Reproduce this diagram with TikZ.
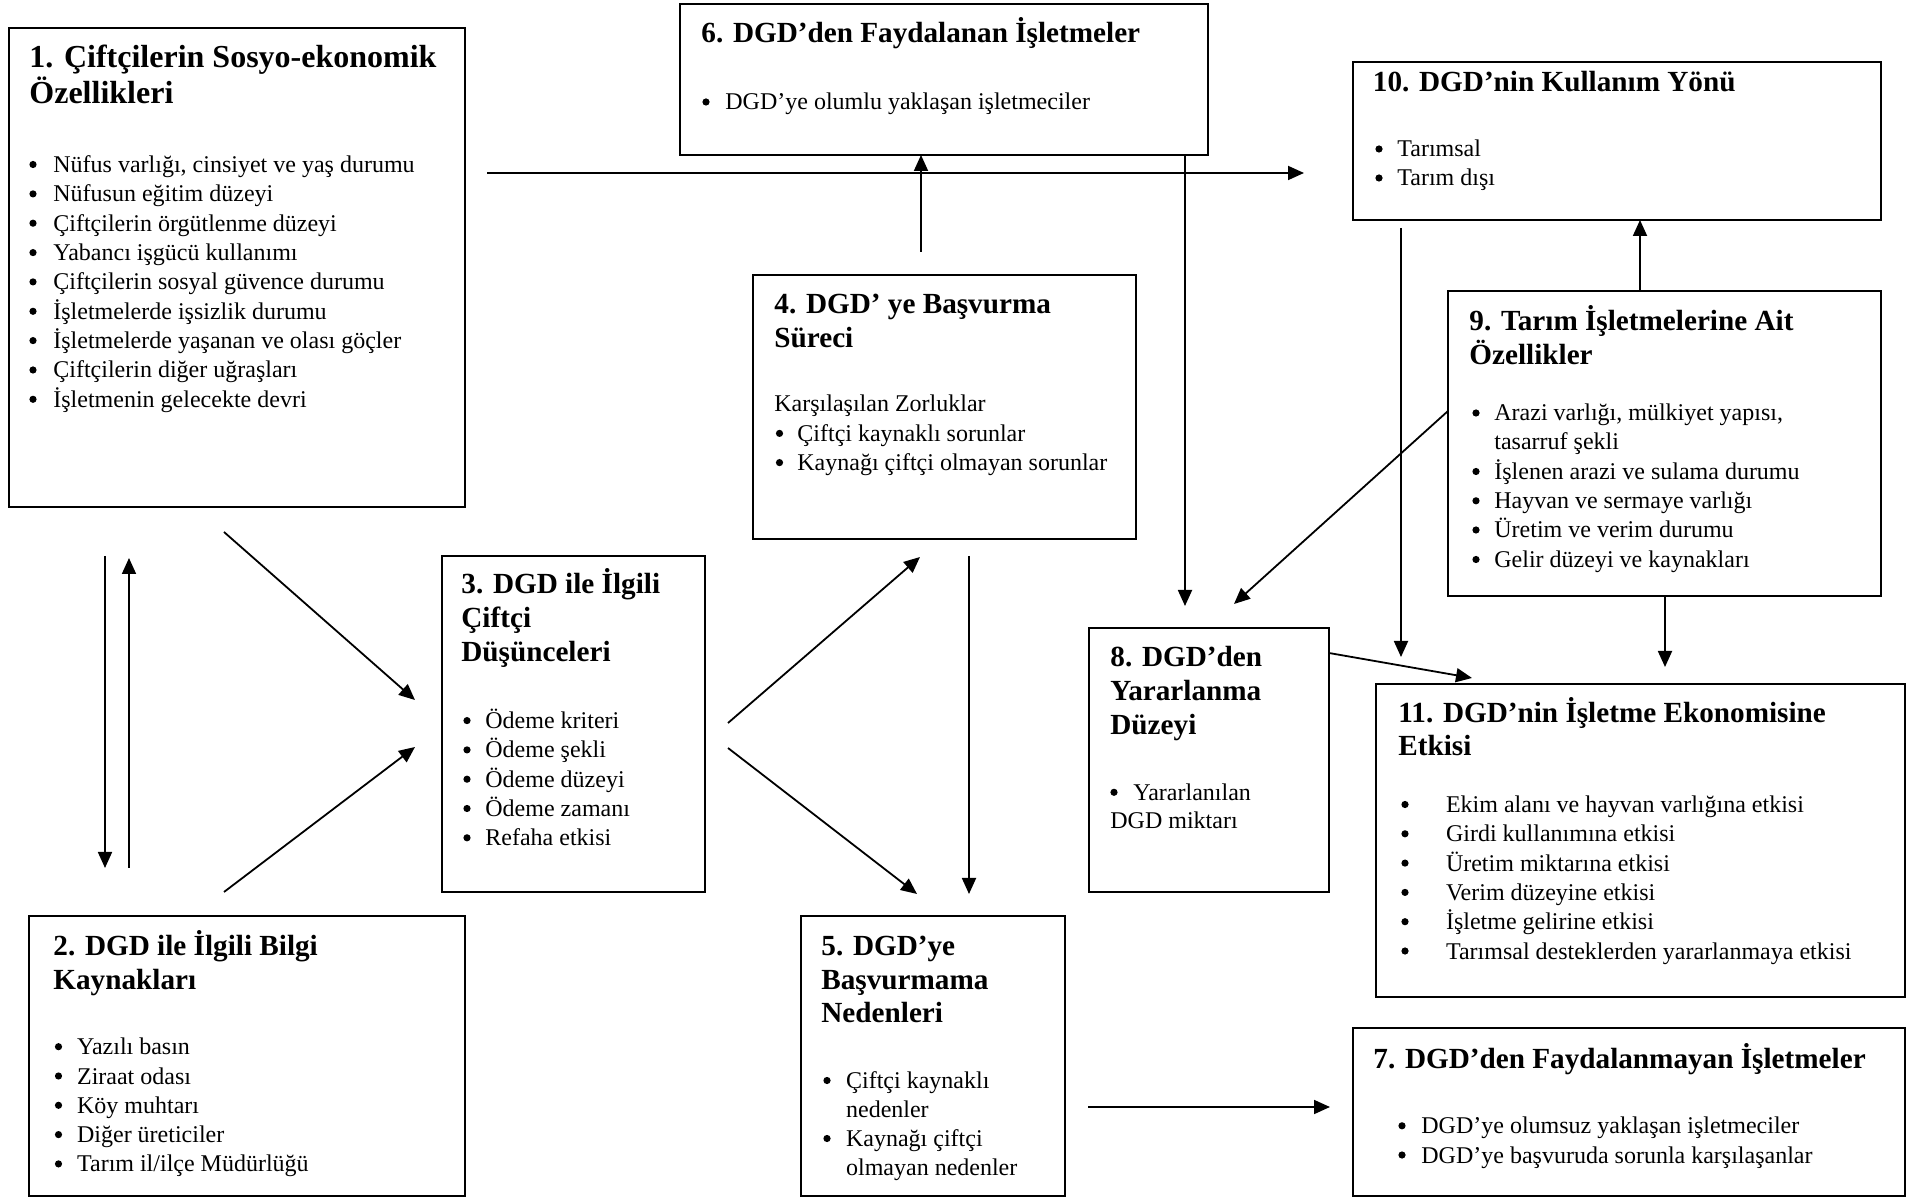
\documentclass[tikz,border=0pt]{standalone}
\usepackage{fontspec}
\setmainfont{Liberation Serif}
\usetikzlibrary{arrows.meta,fit}
\newcommand\bitem[5]{%
  \node[dot] (#1b) at (#2,#4-8) {};
  \node[txt] (#1) at (#3,#4) {#5};}
\begin{document}
\begin{tikzpicture}[x=0.5pt,y=-0.5pt,
  box/.style={draw, line width=1.1pt, inner sep=0pt},
  ttl/.style={anchor=base west, inner sep=0pt, font=\fontsize{14.6}{17}\selectfont\bfseries},
  ttlbig/.style={anchor=base west, inner sep=0pt, font=\fontsize{16}{18}\selectfont\bfseries},
  txt/.style={anchor=base west, inner sep=0pt, font=\fontsize{12}{14}\selectfont},
  dot/.style={circle, fill, inner sep=0pt, minimum size=3.6pt},
  arr/.style={line width=0.9pt, -{Triangle[length=8pt,width=7pt]}}]
\useasboundingbox (0,0) rectangle (1908,1197);

% ---- Box 1
\node[box, fit={(9,28) (465,507)}] (b1) {};
\node[ttlbig] (t1a) at (29,68) {1. Çiftçilerin Sosyo-ekonomik};
\node[ttlbig] (t1b) at (29,104) {Özellikleri};
\bitem{l1a}{33}{53}{172.5}{Nüfus varlığı, cinsiyet ve yaş durumu}
\bitem{l1b}{33}{53}{201.9}{Nüfusun eğitim düzeyi}
\bitem{l1c}{33}{53}{231.2}{Çiftçilerin örgütlenme düzeyi}
\bitem{l1d}{33}{53}{260.6}{Yabancı işgücü kullanımı}
\bitem{l1e}{33}{53}{289.9}{Çiftçilerin sosyal güvence durumu}
\bitem{l1f}{33}{53}{319.3}{İşletmelerde işsizlik durumu}
\bitem{l1g}{33}{53}{348.6}{İşletmelerde yaşanan ve olası göçler}
\bitem{l1h}{33}{53}{378}{Çiftçilerin diğer uğraşları}
\bitem{l1i}{33}{53}{407.3}{İşletmenin gelecekte devri}

% ---- Box 6
\node[box, fit={(680,4) (1208,155)}] (b6) {};
\node[ttl] (t6) at (701,43) {6. DGD’den Faydalanan İşletmeler};
\bitem{l6a}{706}{725}{110}{DGD’ye olumlu yaklaşan işletmeciler}

% ---- Box 10
\node[box, fit={(1353,62) (1881,220)}] (b10) {};
\node[ttl] (t10) at (1372.5,91.5) {10. DGD’nin Kullanım Yönü};
\bitem{l10a}{1379}{1397}{157}{Tarımsal}
\bitem{l10b}{1379}{1397}{186}{Tarım dışı}

% ---- Box 9
\node[box, fit={(1448,291) (1881,596)}] (b9) {};
\node[ttl] (t9a) at (1469,331) {9. Tarım İşletmelerine Ait};
\node[ttl] (t9b) at (1469,365) {Özellikler};
\bitem{l9a}{1476}{1494}{421}{Arazi varlığı, mülkiyet yapısı,}
\node[txt] (l9a2) at (1494,450) {tasarruf şekli};
\bitem{l9b}{1476}{1494}{479.5}{İşlenen arazi ve sulama durumu}
\bitem{l9c}{1476}{1494}{508.8}{Hayvan ve sermaye varlığı}
\bitem{l9d}{1476}{1494}{538}{Üretim ve verim durumu}
\bitem{l9e}{1476}{1494}{567.5}{Gelir düzeyi ve kaynakları}

% ---- Box 4
\node[box, fit={(753,275) (1136,539)}] (b4) {};
\node[ttl] (t4a) at (774,314) {4. DGD’ ye Başvurma};
\node[ttl] (t4b) at (774,348) {Süreci};
\node[txt] (l4h) at (774,412) {Karşılaşılan Zorluklar};
\bitem{l4a}{779.5}{797}{441.4}{Çiftçi kaynaklı sorunlar}
\bitem{l4b}{779.5}{797}{470.6}{Kaynağı çiftçi olmayan sorunlar}

% ---- Box 3
\node[box, fit={(442,556) (705,892)}] (b3) {};
\node[ttl] (t3a) at (461,594) {3. DGD ile İlgili};
\node[ttl] (t3b) at (461,628) {Çiftçi};
\node[ttl] (t3c) at (461,662) {Düşünceleri};
\bitem{l3a}{467}{485}{728.6}{Ödeme kriteri}
\bitem{l3b}{467}{485}{757.9}{Ödeme şekli}
\bitem{l3c}{467}{485}{787.2}{Ödeme düzeyi}
\bitem{l3d}{467}{485}{816.5}{Ödeme zamanı}
\bitem{l3e}{467}{485}{845.8}{Refaha etkisi}

% ---- Box 2
\node[box, fit={(29,916) (465,1196)}] (b2) {};
\node[ttl] (t2a) at (53,955.5) {2. DGD ile İlgili Bilgi};
\node[ttl] (t2b) at (53,989.5) {Kaynakları};
\bitem{l2a}{58.5}{76.7}{1054.7}{Yazılı basın}
\bitem{l2b}{58.5}{76.7}{1084}{Ziraat odası}
\bitem{l2c}{58.5}{76.7}{1113.3}{Köy muhtarı}
\bitem{l2d}{58.5}{76.7}{1142.6}{Diğer üreticiler}
\bitem{l2e}{58.5}{76.7}{1171.9}{Tarım il/ilçe Müdürlüğü}

% ---- Box 5
\node[box, fit={(801,916) (1065,1196)}] (b5) {};
\node[ttl] (t5a) at (821,955.5) {5. DGD’ye};
\node[ttl] (t5b) at (821,989.5) {Başvurmama};
\node[ttl] (t5c) at (821,1022.4) {Nedenleri};
\bitem{l5a}{827}{845.7}{1088.5}{Çiftçi kaynaklı}
\node[txt] (l5a2) at (845.7,1117.5) {nedenler};
\bitem{l5b}{827}{845.7}{1146.5}{Kaynağı çiftçi}
\node[txt] (l5b2) at (845.7,1175.5) {olmayan nedenler};

% ---- Box 8
\node[box, fit={(1089,628) (1329,892)}] (b8) {};
\node[ttl] (t8a) at (1110,667) {8. DGD’den};
\node[ttl] (t8b) at (1110,701) {Yararlanma};
\node[ttl] (t8c) at (1110,735) {Düzeyi};
\bitem{l8a}{1114}{1133}{800.3}{Yararlanılan}
\node[txt] (l8a2) at (1110,828.3) {DGD miktarı};

% ---- Box 11
\node[box, fit={(1376,684) (1905,997)}] (b11) {};
\node[ttl] (t11a) at (1398,723) {11. DGD’nin İşletme Ekonomisine};
\node[ttl] (t11b) at (1398,756) {Etkisi};
\bitem{l11a}{1405}{1445.6}{812.5}{Ekim alanı ve hayvan varlığına etkisi}
\bitem{l11b}{1405}{1445.6}{841.8}{Girdi kullanımına etkisi}
\bitem{l11c}{1405}{1445.6}{871.1}{Üretim miktarına etkisi}
\bitem{l11d}{1405}{1445.6}{900.4}{Verim düzeyine etkisi}
\bitem{l11e}{1405}{1445.6}{929.7}{İşletme gelirine etkisi}
\bitem{l11f}{1405}{1445.6}{959}{Tarımsal desteklerden yararlanmaya etkisi}

% ---- Box 7
\node[box, fit={(1353,1028) (1905,1196)}] (b7) {};
\node[ttl] (t7) at (1373,1068.6) {7. DGD’den Faydalanmayan İşletmeler};
\bitem{l7a}{1402}{1421}{1133.8}{DGD’ye olumsuz yaklaşan işletmeciler}
\bitem{l7b}{1402}{1421}{1163}{DGD’ye başvuruda sorunla karşılaşanlar}

% ---- connector end points
\coordinate (a1s) at (487,173);   \coordinate (a1e) at (1304,173);
\coordinate (a2s) at (921,252);   \coordinate (a2e) at (921,155);
\coordinate (a3s) at (1185,155);  \coordinate (a3e) at (1185,606);
\coordinate (a4s) at (1448,411);  \coordinate (a4e) at (1234,604);
\coordinate (a5s) at (1401,228);  \coordinate (a5e) at (1401,657);
\coordinate (a6s) at (1640,291);  \coordinate (a6e) at (1640,220);
\coordinate (a7s) at (1665,596);  \coordinate (a7e) at (1665,667);
\coordinate (a8s) at (1329,653);  \coordinate (a8e) at (1472,678);
\coordinate (a9s) at (224,532);   \coordinate (a9e) at (415,700);
\coordinate (a10s) at (224,892);  \coordinate (a10e) at (415,747);
\coordinate (a11s) at (105,556);  \coordinate (a11e) at (105,868);
\coordinate (a12s) at (129,868);  \coordinate (a12e) at (129,558);
\coordinate (a13s) at (728,723);  \coordinate (a13e) at (920,557);
\coordinate (a14s) at (728,748);  \coordinate (a14e) at (917,894);
\coordinate (a15s) at (969,556);  \coordinate (a15e) at (969,894);
\coordinate (a16s) at (1088,1107); \coordinate (a16e) at (1330,1107);

\foreach \n in {a1,a2,a3,a4,a5,a6,a7,a8,a9,a10,a11,a12,a13,a14,a15,a16}
  \draw[arr] (\n s) -- (\n e);
\end{tikzpicture}
\end{document}
